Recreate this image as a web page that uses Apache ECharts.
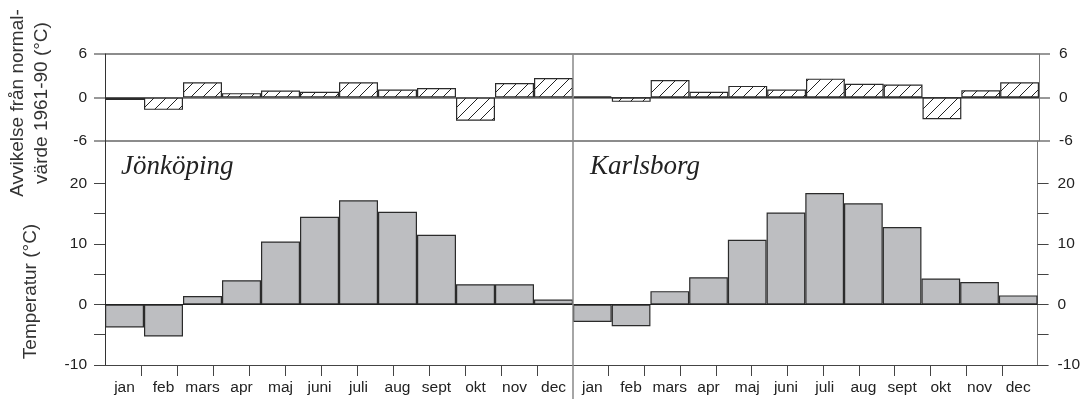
<!DOCTYPE html>
<html>
<head>
<meta charset="utf-8">
<script src="https://cdn.jsdelivr.net/npm/echarts@6/dist/echarts.min.js"></script>
<style>
html,body{margin:0;padding:0;background:#fff;}
#chart{width:1083px;height:399px;}
</style>
</head>
<body>
<div id="chart"></div>
<script>
// ---- data ----
const months = ['jan','feb','mars','apr','maj','juni','juli','aug','sept','okt','nov','dec'];
const jonkopingTemp = [-3.8, -5.3, 1.4, 4.0, 10.4, 14.5, 17.2, 15.3, 11.5, 3.35, 3.35, 0.8];
const karlsborgTemp = [-2.9, -3.6, 2.2, 4.5, 10.7, 15.2, 18.4, 16.7, 12.8, 4.3, 3.7, 1.5];
const jonkopingDev = [-0.35, -1.7, 2.1, 0.6, 0.95, 0.8, 2.1, 1.1, 1.3, -3.2, 2.0, 2.7];
const karlsborgDev = [0.15, -0.6, 2.4, 0.8, 1.6, 1.1, 2.6, 1.9, 1.8, -3.0, 1.0, 2.1];
const devTicks = [-6, 0, 6];
const tempTickValues = [-10, -5, 0, 5, 10, 15, 20];
const tempLabelValues = [-10, 0, 10, 20];
const monthTickPositions = [1,2,3,4,5,6,7,8,9,10,11,12];

// ---- layout ----
const L = 105, M = 573, R = 1039, T = 54, MID = 141, B = 365;
const FONT = "'Liberation Sans', Arial, sans-serif";
const LABEL_SIZE = 15.5;

// hatch pattern
const pc = document.createElement('canvas');
pc.width = 12; pc.height = 12;
const ctx = pc.getContext('2d');
ctx.fillStyle = '#ffffff';
ctx.fillRect(0, 0, 12, 12);
ctx.strokeStyle = '#222';
ctx.lineWidth = 1;
ctx.beginPath();
ctx.moveTo(-1, 13); ctx.lineTo(13, -1);
ctx.stroke();
const hatch = { image: pc, repeat: 'repeat' };

const chart = echarts.init(document.getElementById('chart'), null, { renderer: 'canvas' });

function catAxis(gi, showLabels) {
  return {
    type: 'category', gridIndex: gi, data: months, boundaryGap: true, position: 'bottom',
    axisLine: { show: showLabels, onZero: false, lineStyle: { color: '#444', width: 1 } },
    axisTick: { show: false },
    axisLabel: { show: showLabels, margin: 15, fontFamily: FONT, fontSize: LABEL_SIZE, color: '#222', interval: 0 },
    splitLine: { show: false }
  };
}
function tickAxis(gi) {
  return {
    type: 'value', gridIndex: gi, min: 0, max: 13, position: 'bottom',
    axisLine: { show: false, onZero: false },
    axisTick: { show: true, length: 11, customValues: monthTickPositions, lineStyle: { color: '#444', width: 1 } },
    axisLabel: { show: false },
    splitLine: { show: false }
  };
}
function devAxis(gi, pos, lineColor) {
  return {
    type: 'value', gridIndex: gi, position: pos, min: -6, max: 6, interval: 6,
    axisLine: { show: true, onZero: false, lineStyle: { color: lineColor, width: 1 } },
    axisTick: { show: true, length: 11, customValues: devTicks, lineStyle: { color: '#777', width: 1.5 } },
    axisLabel: { margin: pos === 'left' ? 18 : 20, fontFamily: FONT, fontSize: LABEL_SIZE, color: '#222' },
    splitLine: { show: true, lineStyle: { color: '#8c8c8c', width: 2 } }
  };
}
function tempAxis(gi, pos, lineColor) {
  return {
    type: 'value', gridIndex: gi, position: pos, min: -10, max: 27,
    axisLine: { show: true, onZero: false, lineStyle: { color: lineColor, width: 1 } },
    axisTick: { show: true, length: 11, customValues: tempTickValues, lineStyle: { color: '#444', width: 1 } },
    axisLabel: { customValues: tempLabelValues, margin: pos === 'left' ? 18 : 20, fontFamily: FONT, fontSize: LABEL_SIZE, color: '#222' },
    splitLine: { show: false }
  };
}
const zeroLine = (color) => ({
  silent: true, symbol: 'none', label: { show: false },
  lineStyle: { color: color, width: 1, type: 'solid' },
  data: [{ yAxis: 0 }]
});

const barBorder = { borderColor: '#2b2b2b', borderWidth: 1.2 };

chart.setOption({
  animation: false,
  backgroundColor: '#fff',
  grid: [
    { left: L, top: T, width: M - L, height: MID - T },
    { left: M, top: T, width: R - M, height: MID - T },
    { left: L, top: MID, width: M - L, height: B - MID },
    { left: M, top: MID, width: R - M, height: B - MID }
  ],
  xAxis: [catAxis(0, false), catAxis(1, false), catAxis(2, true), catAxis(3, true), tickAxis(2), tickAxis(3)],
  yAxis: [devAxis(0, 'left', '#333'), devAxis(1, 'right', '#777'), tempAxis(2, 'left', '#333'), tempAxis(3, 'right', '#777')],
  series: [
    { type: 'bar', xAxisIndex: 0, yAxisIndex: 0, data: jonkopingDev, barCategoryGap: 0,
      itemStyle: Object.assign({ color: hatch }, barBorder) },
    { type: 'bar', xAxisIndex: 1, yAxisIndex: 1, data: karlsborgDev, barCategoryGap: 0,
      itemStyle: Object.assign({ color: hatch }, barBorder), markLine: zeroLine('#333') },
    { type: 'bar', xAxisIndex: 2, yAxisIndex: 2, data: jonkopingTemp, barCategoryGap: 0,
      itemStyle: Object.assign({ color: '#bdbec1' }, barBorder), markLine: zeroLine('#222') },
    { type: 'bar', xAxisIndex: 3, yAxisIndex: 3, data: karlsborgTemp, barCategoryGap: 0,
      itemStyle: Object.assign({ color: '#bdbec1' }, barBorder), markLine: zeroLine('#222') }
  ],
  graphic: [
    { type: 'line', z: 100, shape: { x1: M, y1: T, x2: M, y2: 399 }, style: { stroke: '#888', lineWidth: 1.5 } },
    { type: 'text', x: L + 16, y: 167, z: 100,
      style: { text: 'Jönköping', font: 'italic 27px "Liberation Serif", "Times New Roman", serif', fill: '#222', align: 'left', verticalAlign: 'middle' } },
    { type: 'text', x: M + 17, y: 167, z: 100,
      style: { text: 'Karlsborg', font: 'italic 27px "Liberation Serif", "Times New Roman", serif', fill: '#222', align: 'left', verticalAlign: 'middle' } },
    { type: 'text', x: 29.5, y: 103, rotation: Math.PI / 2, z: 100,
      style: { text: 'Avvikelse från normal-\nvärde 1961-90 (°C)', font: '19px ' + FONT, fill: '#333', align: 'center', verticalAlign: 'middle', lineHeight: 24 } },
    { type: 'text', x: 31, y: 291.5, rotation: Math.PI / 2, z: 100,
      style: { text: 'Temperatur (°C)', font: '19px ' + FONT, fill: '#333', align: 'center', verticalAlign: 'middle' } }
  ]
});
</script>
</body>
</html>
